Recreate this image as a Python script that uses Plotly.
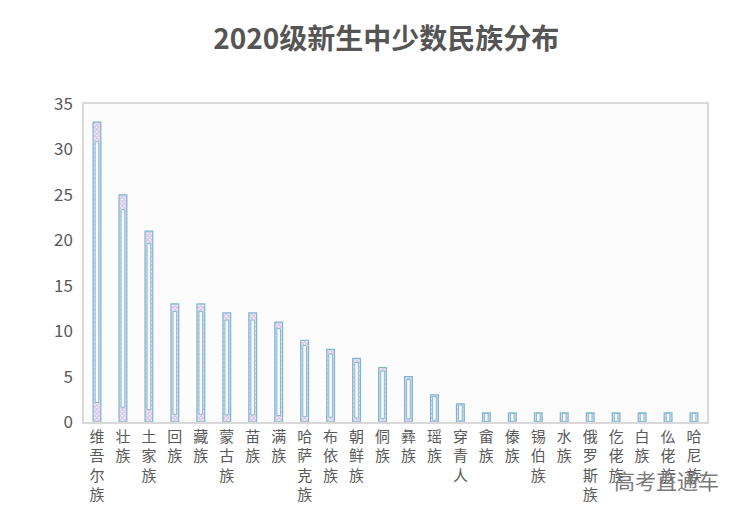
import plotly.graph_objects as go

categories = ["维吾尔族", "壮族", "土家族", "回族", "藏族", "蒙古族", "苗族", "满族",
              "哈萨克族", "布依族", "朝鲜族", "侗族", "彝族", "瑶族", "穿青人", "畲族",
              "傣族", "锡伯族", "水族", "俄罗斯族", "仡佬族", "白族", "仫佬族", "哈尼族"]
values = [33, 25, 21, 13, 13, 12, 12, 11, 9, 8, 7, 6, 5, 3, 2, 1, 1, 1, 1, 1, 1, 1, 1, 1]
y_ticks = [0, 5, 10, 15, 20, 25, 30, 35]

font = "Noto Sans CJK SC"
ticktext = ["<br>".join(list(c)) for c in categories]

fig = go.Figure()
fig.add_trace(go.Bar(
    x=categories, y=values, width=0.3,
    marker=dict(color="white",
                line=dict(color="#7fb6cf", width=1.2),
                pattern=dict(shape="x", fgcolor="#b796cf", bgcolor="#f3eef8", size=3, solidity=0.6)),
    hoverinfo="x+y",
))
inner_base = [v * 0.065 for v in values]
inner_h = [v * 0.87 for v in values]
fig.add_trace(go.Bar(
    x=categories, y=inner_h, base=inner_base, width=0.14,
    marker=dict(color="#f6fafd", line=dict(color="#86bcd4", width=1)),
    hoverinfo="skip",
))

fig.update_layout(
    width=749, height=522,
    margin=dict(l=76, r=50, t=96, b=108, autoexpand=False),
    barmode="overlay",
    showlegend=False,
    paper_bgcolor="white",
    plot_bgcolor="#fcfcfc",
    font=dict(family=font, color="#595959"),
    title=dict(text="<b>2020级新生中少数民族分布</b>", x=0.505, xanchor="center",
               y=0.94, yanchor="middle",
               font=dict(family=font, size=28, color="#555555")),
    xaxis=dict(tickmode="array", tickvals=categories, ticktext=ticktext,
               tickangle=0, tickfont=dict(size=15, color="#595959"),
               showline=True, linecolor="#d9d9d9", linewidth=1.5, mirror=True,
               ticks="", range=[-0.5, 23.5], automargin=False),
    yaxis=dict(range=[0, 35], tickvals=y_ticks, tickfont=dict(size=17, color="#595959"),
               showgrid=False, zeroline=False,
               showline=True, linecolor="#d9d9d9", linewidth=1.5, mirror=True,
               ticks="", ticklabelstandoff=6, automargin=False),
    annotations=[dict(text="高考直通车", xref="paper", yref="paper", x=1.0225, y=-0.183,
                      xanchor="right", yanchor="middle", showarrow=False,
                      font=dict(family=font, size=21, color="#7a7a7a"))],
)

fig.write_html("out.html")
